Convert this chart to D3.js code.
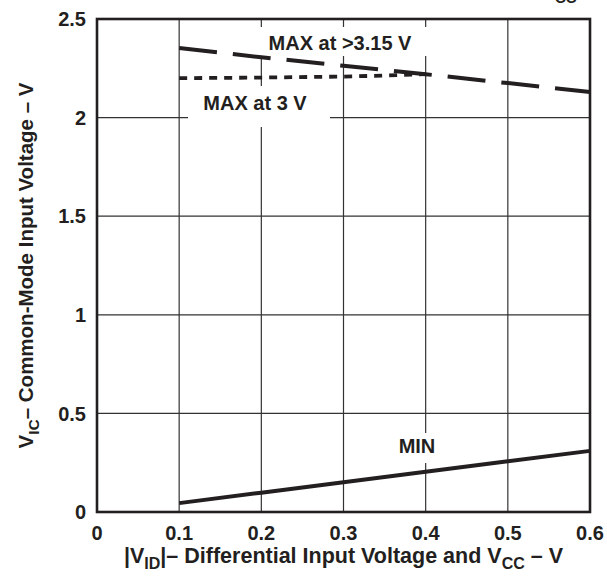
<!DOCTYPE html>
<html><head><meta charset="utf-8">
<script src="https://cdn.jsdelivr.net/npm/d3@7"></script>
<style>
body{margin:0;background:#fff;}
text{font-family:"Liberation Sans",Arial,sans-serif;font-weight:bold;fill:#231f20;}
</style></head>
<body><svg id="c" width="607" height="578"></svg>
<script>
const xTicks = [0, 0.1, 0.2, 0.3, 0.4, 0.5, 0.6];
const xTickLabels = ["0", "0.1", "0.2", "0.3", "0.4", "0.5", "0.6"];
const yTicks = [0, 0.5, 1, 1.5, 2, 2.5];
const yTickLabels = ["0", "0.5", "1", "1.5", "2", "2.5"];
const maxHighX = [0.1, 0.2, 0.3, 0.4, 0.5, 0.6];
const maxHighY = [2.353, 2.306, 2.263, 2.220, 2.175, 2.130];
const max3X = [0.1, 0.2, 0.3, 0.35, 0.4];
const max3Y = [2.200, 2.203, 2.208, 2.213, 2.220];
const minX = [0.1, 0.2, 0.3, 0.4, 0.5, 0.6];
const minY = [0.045, 0.098, 0.151, 0.204, 0.257, 0.310];

const svg = d3.select("#c");
const L = 97, R = 590, T = 19, B = 512;
const x = d3.scaleLinear().domain([0, 0.6]).range([L, R]);
const y = d3.scaleLinear().domain([0, 2.5]).range([B, T]);
const ink = "#231f20";

// grid
const g = svg.append("g");
g.selectAll(".vg").data(xTicks.slice(1, -1)).enter().append("line")
  .attr("x1", d => x(d)).attr("x2", d => x(d)).attr("y1", T).attr("y2", B)
  .attr("stroke", "#333").attr("stroke-width", 1.2);
g.selectAll(".hg").data(yTicks.slice(1, -1)).enter().append("line")
  .attr("x1", L).attr("x2", R).attr("y1", d => y(d)).attr("y2", d => y(d))
  .attr("stroke", "#333").attr("stroke-width", 1.2);

// label backgrounds
const boxes = [[250, 27, 183, 29], [188, 86, 142, 41], [396, 433, 44, 30]];
svg.selectAll(".bx").data(boxes).enter().append("rect")
  .attr("x", d => d[0]).attr("y", d => d[1]).attr("width", d => d[2]).attr("height", d => d[3])
  .attr("fill", "#fff");

// frame
svg.append("rect").attr("x", L).attr("y", T).attr("width", R - L).attr("height", B - T)
  .attr("fill", "none").attr("stroke", ink).attr("stroke-width", 2.6);

// data lines
const line = d3.line().x(d => x(d[0])).y(d => y(d[1]));
svg.append("path").datum(maxHighX.map((v, i) => [v, maxHighY[i]]))
  .attr("d", line).attr("fill", "none").attr("stroke", ink).attr("stroke-width", 4)
  .attr("stroke-dasharray", "38,16");
svg.append("path").datum(max3X.map((v, i) => [v, max3Y[i]]))
  .attr("d", line).attr("fill", "none").attr("stroke", ink).attr("stroke-width", 3.8)
  .attr("stroke-dasharray", "8,7");
svg.append("path").datum(minX.map((v, i) => [v, minY[i]]))
  .attr("d", line).attr("fill", "none").attr("stroke", ink).attr("stroke-width", 4);

// tick labels
svg.selectAll(".xt").data(xTicks).enter().append("text")
  .attr("x", d => x(d)).attr("y", 540).attr("text-anchor", "middle")
  .style("font-size", "20px").text((d, i) => xTickLabels[i]);
svg.selectAll(".yt").data(yTicks).enter().append("text")
  .attr("x", 86).attr("y", d => y(d)).attr("dy", "0.36em").attr("text-anchor", "end")
  .style("font-size", "20px").text((d, i) => yTickLabels[i]);

// in-plot labels
svg.append("text").attr("x", 340).attr("y", 50).attr("text-anchor", "middle")
  .style("font-size", "20px").text("MAX at >3.15 V");
svg.append("text").attr("x", 255).attr("y", 110).attr("text-anchor", "middle")
  .style("font-size", "20px").text("MAX at 3 V");
svg.append("text").attr("x", 417).attr("y", 453).attr("text-anchor", "middle")
  .style("font-size", "20px").text("MIN");

// x title
const xt = svg.append("text").attr("x", (L + R) / 2).attr("y", 563).attr("text-anchor", "middle")
  .style("font-size", "21.5px");
xt.append("tspan").text("|V");
xt.append("tspan").attr("dy", 6).style("font-size", "16px").text("ID");
xt.append("tspan").attr("dy", -6).text("|– Differential Input Voltage and V");
xt.append("tspan").attr("dy", 6).style("font-size", "16px").text("CC");
xt.append("tspan").attr("dy", -6).text(" – V");

// y title
const yt = svg.append("text").attr("transform", `translate(33,${(T + B) / 2}) rotate(-90)`)
  .attr("text-anchor", "middle").style("font-size", "20.5px");
yt.append("tspan").text("V");
yt.append("tspan").attr("dy", 6).style("font-size", "15.5px").text("IC");
yt.append("tspan").attr("dy", -6).text("– Common-Mode Input Voltage – V");

// clipped text at top edge
svg.append("text").attr("x", 555).attr("y", 3).style("font-size", "15px").text("CC");
</script></body></html>
